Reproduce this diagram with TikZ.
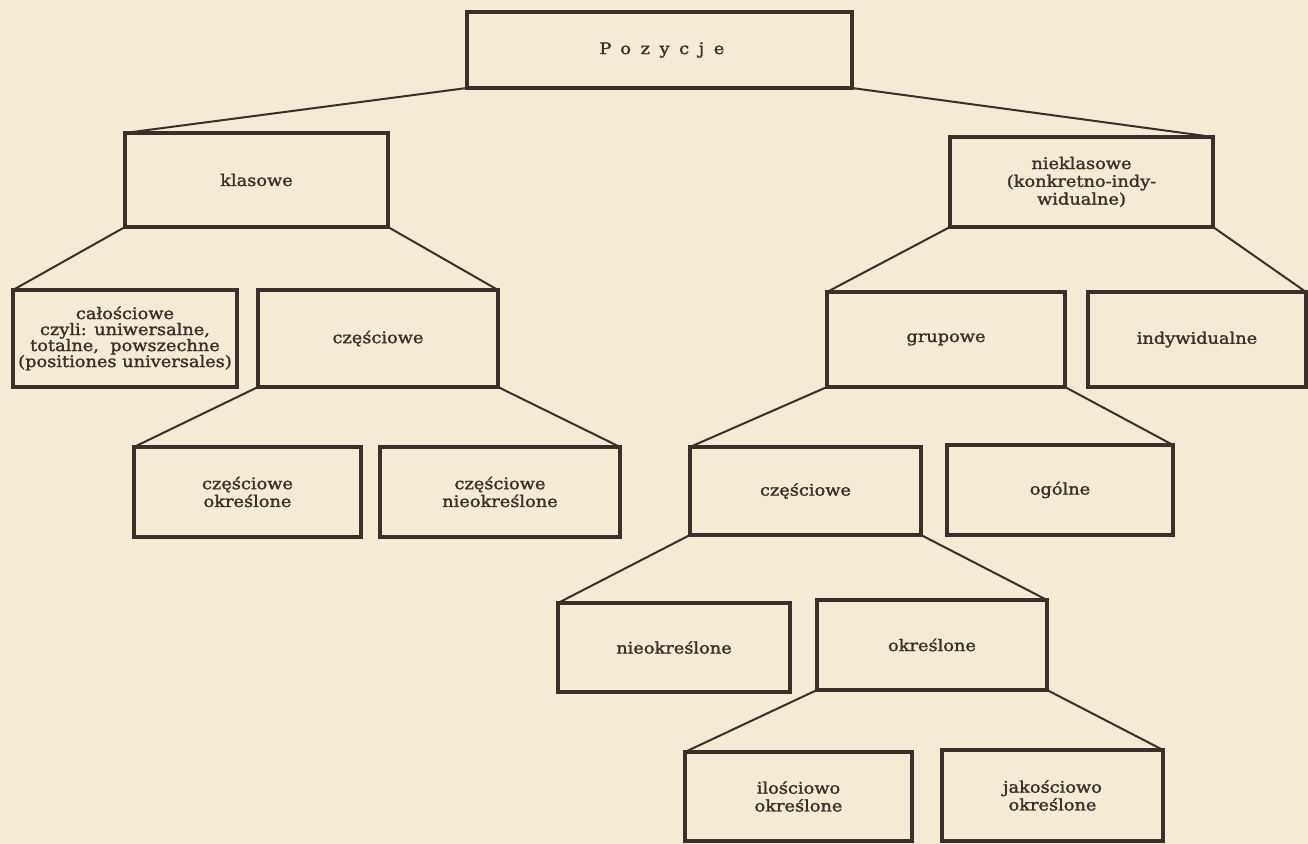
\documentclass[tikz,border=0pt]{standalone}
\usepackage{fontspec}
\setmainfont{DejaVu Serif}[FakeStretch=1.11, FakeBold=1.6]
\definecolor{paper}{HTML}{F3EBD5}
\definecolor{ink}{HTML}{3A2F2B}
\tikzset{
  box/.style 2 args={draw=ink, line width=2.2pt, align=center, inner sep=0pt, outer sep=0pt,
    minimum width=#1*0.5pt, minimum height=#2*0.5pt,
    font=\fontsize{8}{8.9}\selectfont, text=ink},
  tight/.style={font=\fontsize{8}{8}\selectfont},
  link/.style={draw=ink, line width=1pt, line cap=round},
}
\begin{document}
\begin{tikzpicture}[x=0.5pt, y=-0.5pt]
\fill[paper] (0,0) rectangle (1308,844);
\useasboundingbox (0,0) rectangle (1308,844);

% root
\node[box={385}{76}] (poz) at (659.5,50) {\hspace{0.3em}\addfontfeature{LetterSpace=60}Pozycje};

% second level
\node[box={263}{94}] (kl)  at (256.5,180) {klasowe};
\node[box={263}{90}] (nkl) at (1081.5,182) {nieklasowe\\(konkretno-indy-\\widualne)};

% third level
\node[box={224}{97}, tight] (cal) at (125,338.5) {całościowe\\czyli: uniwersalne,\\totalne, \ powszechne\\(positiones universales)};
\node[box={240}{97}] (cz)  at (378,338.5) {częściowe};
\node[box={238}{95}] (grp) at (946,339.5) {grupowe};
\node[box={218}{95}] (ind) at (1197,339.5) {indywidualne};

% fourth level
\node[box={227}{90}] (czo) at (247.5,492) {częściowe\\określone};
\node[box={240}{90}] (czn) at (500,492) {częściowe\\nieokreślone};
\node[box={231}{88}] (gcz) at (805.5,491) {częściowe};
\node[box={226}{90}] (ogl) at (1060,490) {ogólne};

% fifth level
\node[box={232}{89}] (nok) at (674,647.5) {nieokreślone};
\node[box={230}{90}] (okr) at (932,645) {określone};

% sixth level
\node[box={227}{89}] (ilo) at (798.5,796.5) {ilościowo\\określone};
\node[box={221}{91}] (jak) at (1052.5,795.5) {jakościowo\\określone};

% fan-shaped connectors from parent corners to children corners
\draw[link] (poz.south west) -- (kl.north west);
\draw[link] (poz.south east) -- (nkl.north east);
\draw[link] (kl.south west) -- (cal.north west);
\draw[link] (kl.south east) -- (cz.north east);
\draw[link] (nkl.south west) -- (grp.north west);
\draw[link] (nkl.south east) -- (ind.north east);
\draw[link] (cz.south west) -- (czo.north west);
\draw[link] (cz.south east) -- (czn.north east);
\draw[link] (grp.south west) -- (gcz.north west);
\draw[link] (grp.south east) -- (ogl.north east);
\draw[link] (gcz.south west) -- (nok.north west);
\draw[link] (gcz.south east) -- (okr.north east);
\draw[link] (okr.south west) -- (ilo.north west);
\draw[link] (okr.south east) -- (jak.north east);
\end{tikzpicture}
\end{document}
